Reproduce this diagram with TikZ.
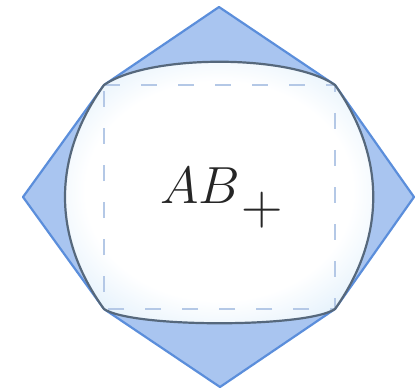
\documentclass[tikz,border=0pt]{standalone}
\definecolor{octfill}{HTML}{A9C5F0}
\definecolor{octline}{HTML}{5B8EDB}
\definecolor{curveline}{HTML}{56687C}
\definecolor{innerblue}{HTML}{BFDCF4}
\definecolor{innerblueb}{HTML}{D8EBFA}
\definecolor{dashcol}{HTML}{B4C8E6}
\pgfdeclareradialshading{softblue}{\pgfpoint{0bp}{0bp}}{color(0bp)=(white); color(20bp)=(white); color(32bp)=(innerblueb); color(50bp)=(innerblue)}
\begin{document}
\begin{tikzpicture}[x=1pt,y=-1pt,
  octstyle/.style={fill=octfill,draw=octline,line width=2.2pt,line join=round},
  curvestyle/.style={draw=curveline,line width=2.2pt,line join=round},
  dashstyle/.style={draw=dashcol,line width=2.6pt,dash pattern=on 16pt off 21pt}]
\useasboundingbox (0,0) rectangle (417,390);
% key points
\coordinate (T) at (219,7);
\coordinate (R) at (414,197);
\coordinate (B) at (220,387);
\coordinate (L) at (23,197);
\coordinate (TL) at (104,85);
\coordinate (TR) at (335,85);
\coordinate (BR) at (335,309);
\coordinate (BL) at (104,309);
% octagon
\path[octstyle] (T) -- (TR) -- (R) -- (BR) -- (B) -- (BL) -- (L) -- (TL) -- cycle;
% rounded shape
\path[shading=softblue] (TL) .. controls (149,54) and (290,54) .. (TR)
  .. controls (386,157) and (386,237) .. (BR)
  .. controls (307,328) and (132,328) .. (BL)
  .. controls (52,237) and (52,157) .. (TL) -- cycle;
% dashed square
\draw[dashstyle] (TL) -- (TR) -- (BR) -- (BL) -- cycle;
% curve outline
\draw[curvestyle] (TL) .. controls (149,54) and (290,54) .. (TR)
  .. controls (386,157) and (386,237) .. (BR)
  .. controls (307,328) and (132,328) .. (BL)
  .. controls (52,237) and (52,157) .. (TL) -- cycle;
% label
\node[anchor=base west,inner sep=0pt,text=black!85] (lab) at (160,203) {\scalebox{2.1}{\Huge $AB\kern0.5pt\lower10pt\hbox{\scalebox{1.1}{$+$}}$}};
\end{tikzpicture}
\end{document}
